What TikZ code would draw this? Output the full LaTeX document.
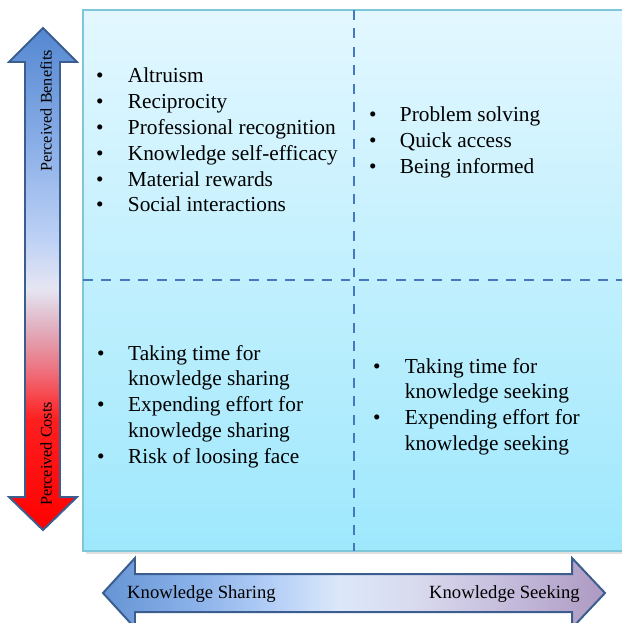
\documentclass[tikz,border=0pt]{standalone}
\usepackage{fontspec}
\setmainfont{Liberation Serif}
\usepackage{xcolor}
\usepackage{tikz}

\definecolor{boxline}{rgb}{0.49,0.78,0.85}
\definecolor{boxtop}{rgb}{0.89,0.97,1.0}
\definecolor{boxbottom}{rgb}{0.62,0.91,0.99}
\definecolor{splitline}{rgb}{0.27,0.47,0.75}
\definecolor{arrowline}{rgb}{0.23,0.37,0.56}

\pgfdeclareverticalshading{benefitcost}{100bp}{rgb(0bp)=(1,0,0); rgb(25bp)=(1,0,0); rgb(36bp)=(1,0.12,0.12); rgb(41bp)=(0.93,0.45,0.5); rgb(45bp)=(0.88,0.68,0.74); rgb(49bp)=(0.9,0.9,0.95); rgb(54bp)=(0.74,0.82,0.96); rgb(63bp)=(0.55,0.69,0.91); rgb(75bp)=(0.33,0.53,0.82); rgb(100bp)=(0.33,0.53,0.82)}
\pgfdeclarehorizontalshading{sharingseeking}{100bp}{rgb(0bp)=(0.40,0.58,0.83); rgb(25bp)=(0.40,0.58,0.83); rgb(34.5bp)=(0.55,0.70,0.92); rgb(42.5bp)=(0.72,0.82,0.97); rgb(48.5bp)=(0.86,0.91,0.98); rgb(56.5bp)=(0.85,0.85,0.93); rgb(66.5bp)=(0.76,0.72,0.85); rgb(75bp)=(0.68,0.60,0.76); rgb(100bp)=(0.68,0.60,0.76)}

\begin{document}
\begin{tikzpicture}[x=0.03cm,y=-0.03cm,
  itemtext/.style={anchor=base west,inner sep=0pt,font=\fontsize{18.2}{22}\selectfont},
  axistext/.style={inner sep=0pt,font=\fontsize{15.9}{19}\selectfont},
  sidetext/.style={inner sep=0pt,rotate=90,anchor=west,font=\fontsize{13.8}{16}\selectfont},
  split/.style={splitline,line width=2.5pt,dash pattern=on 8.5pt off 7.2pt},
  bigarrow/.style={draw=arrowline,line width=1.7pt}]
\useasboundingbox (0,0) rectangle (621,623);
% quadrants
\fill[black!12] (86,551) rectangle (623,554);
\draw[boxline,line width=1.7pt,top color=boxtop,bottom color=boxbottom] (83,10) rectangle (623,551);
\draw[split] (354,10) -- (354,551);
\draw[split] (83,280) -- (623,280);
% axes
\shadedraw[bigarrow,shading=benefitcost] (43,28) -- (77,62) -- (60,62) -- (60,497) -- (77,497) -- (43,530) -- (9,497) -- (25,497) -- (25,62) -- (9,62) -- cycle;
\shadedraw[bigarrow,shading=sharingseeking] (103,593) -- (135,558) -- (135,574) -- (572,574) -- (572,558) -- (605,593) -- (572,628) -- (572,612) -- (135,612) -- (135,628) -- cycle;
\node[sidetext] (benefits) at (46,172) {Perceived Benefits};
\node[sidetext] (costs) at (46,506) {Perceived Costs};
\node[axistext,anchor=base west] (sharing) at (127,598) {Knowledge Sharing};
\node[axistext,anchor=base east] (seeking) at (580,598) {Knowledge Seeking};
% lists
\node[itemtext] (shareben) at (96,83) {\begin{tabular}[t]{@{}p{0.95cm}@{}l@{}}
\textbullet & Altruism\\
\textbullet & Reciprocity\\
\textbullet & Professional recognition\\
\textbullet & Knowledge self-efficacy\\
\textbullet & Material rewards\\
\textbullet & Social interactions
\end{tabular}};
\node[itemtext] (seekben) at (369,122) {\begin{tabular}[t]{@{}p{0.92cm}@{}l@{}}
\textbullet & Problem solving\\
\textbullet & Quick access\\
\textbullet & Being informed
\end{tabular}};
\node[itemtext] (sharecost) at (97,360) {\begin{tabular}[t]{@{}p{0.93cm}@{}l@{}}
\textbullet & Taking time for\\
 & knowledge sharing\\
\textbullet & Expending effort for\\
 & knowledge sharing\\
\textbullet & Risk of loosing face
\end{tabular}};
\node[itemtext] (seekcost) at (373,373) {\begin{tabular}[t]{@{}p{0.95cm}@{}l@{}}
\textbullet & Taking time for\\
 & knowledge seeking\\
\textbullet & Expending effort for\\
 & knowledge seeking
\end{tabular}};
\end{tikzpicture}
\end{document}
